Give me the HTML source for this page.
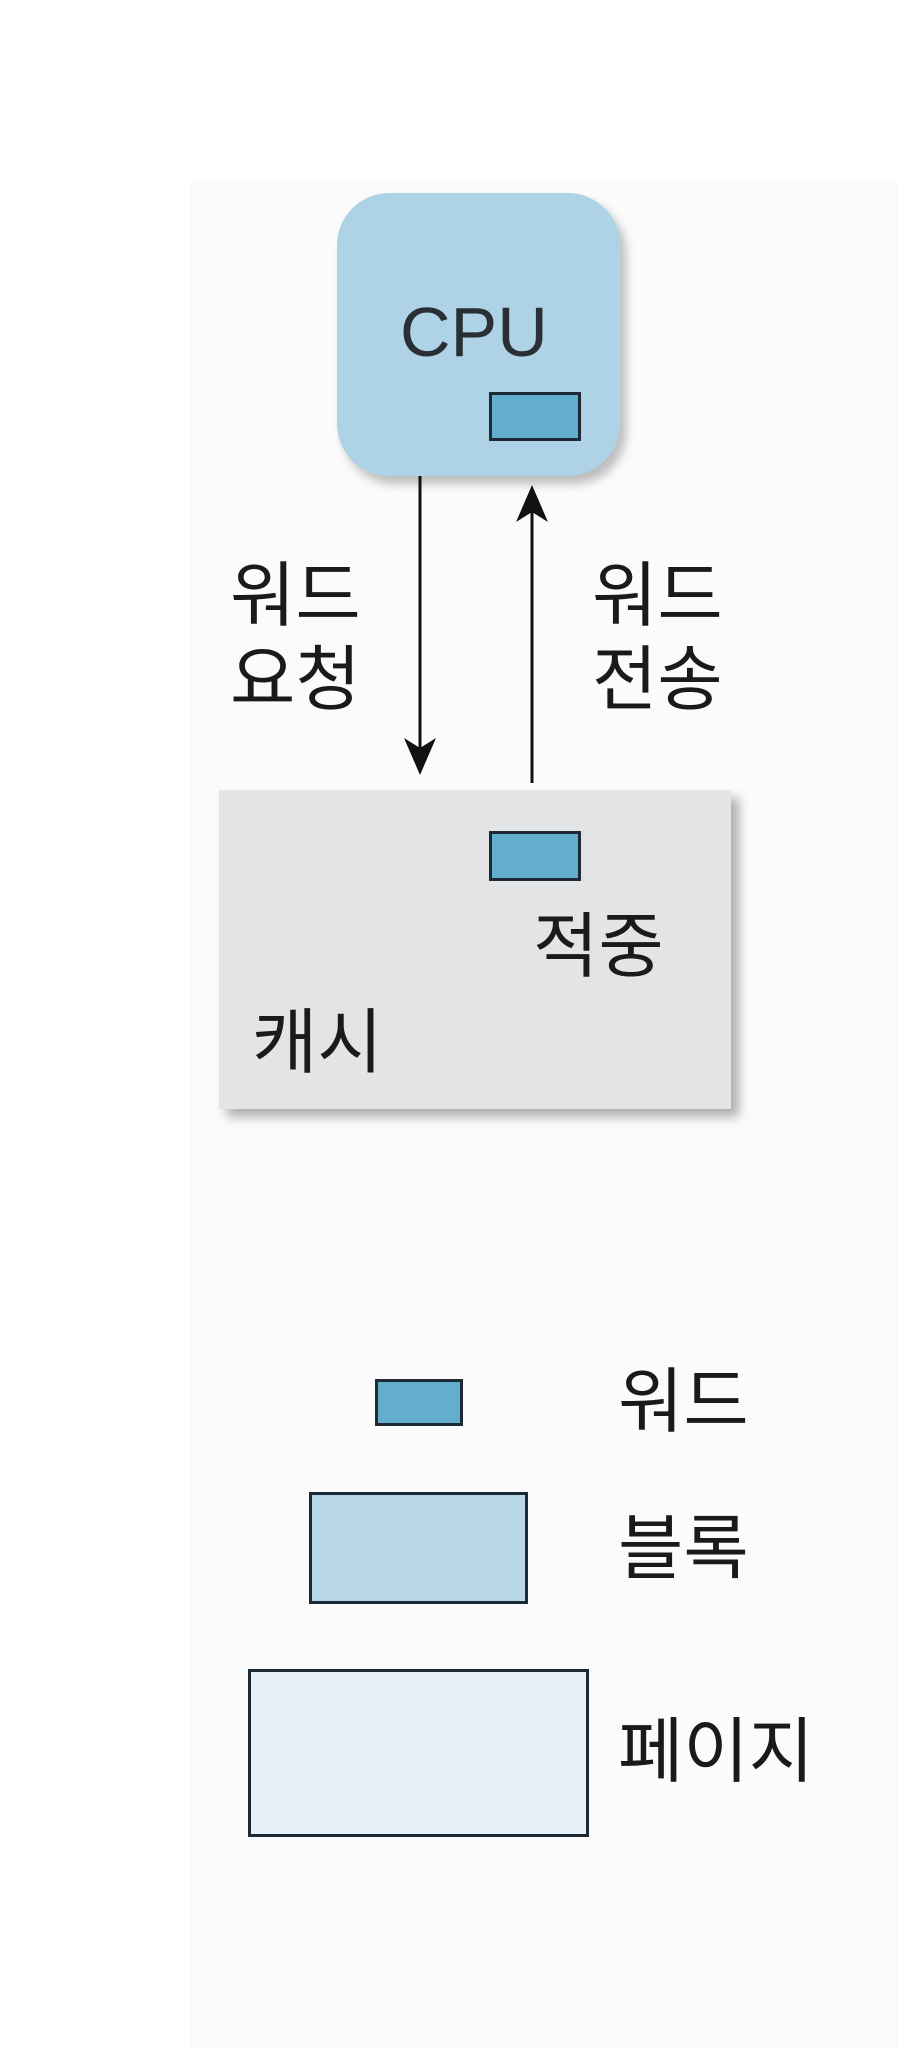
<!DOCTYPE html>
<html><head><meta charset="utf-8"><style>
body{margin:0;width:898px;height:2048px;background:#fff;position:relative;overflow:hidden;font-family:"Liberation Sans","Noto Sans CJK KR","NanumGothic",sans-serif;color:#1a1a1a}
.a{position:absolute}
.t{position:absolute;font-size:71px;line-height:84px;white-space:nowrap}
.w{position:absolute;background:#63aecf;border:3px solid #1e2a33;box-sizing:border-box}
</style></head><body>
<div class="a" style="left:190px;top:180px;width:708px;height:1868px;background:#fbfbfb"></div>
<div class="a" style="left:337px;top:193px;width:283px;height:283px;border-radius:52px;background:#aed3e6;box-shadow:6px 8px 10px rgba(0,0,0,0.25)"></div>
<div class="t" style="left:400px;top:290px;font-size:70px;color:#2a2f35">CPU</div>
<div class="w" style="left:489px;top:392px;width:92px;height:49px"></div>
<svg class="a" style="left:0;top:0" width="898" height="1200">
<line x1="420" y1="476" x2="420" y2="750" stroke="#111" stroke-width="3"/>
<polygon points="404,738 420,775 436,738 420,748" fill="#111"/>
<line x1="532" y1="783" x2="532" y2="510" stroke="#111" stroke-width="3"/>
<polygon points="516,522 532,485 548,522 532,512" fill="#111"/>
</svg>
<div class="t" style="left:230px;top:555px">워드<br>요청</div>
<div class="t" style="left:592px;top:555px">워드<br>전송</div>
<div class="a" style="left:219px;top:790px;width:512px;height:319px;background:#e3e4e6;box-shadow:8px 8px 10px rgba(0,0,0,0.3)"></div>
<div class="w" style="left:489px;top:831px;width:92px;height:50px"></div>
<div class="t" style="left:533px;top:906px">적중</div>
<div class="t" style="left:252px;top:1002px">캐시</div>
<div class="w" style="left:375px;top:1379px;width:88px;height:47px"></div>
<div class="t" style="left:618px;top:1361px">워드</div>
<div class="w" style="left:309px;top:1492px;width:219px;height:112px;background:#b8d7e8"></div>
<div class="t" style="left:618px;top:1508px">블록</div>
<div class="w" style="left:248px;top:1669px;width:341px;height:168px;background:#e6f0f8"></div>
<div class="t" style="left:618px;top:1711px">페이지</div>
</body></html>
